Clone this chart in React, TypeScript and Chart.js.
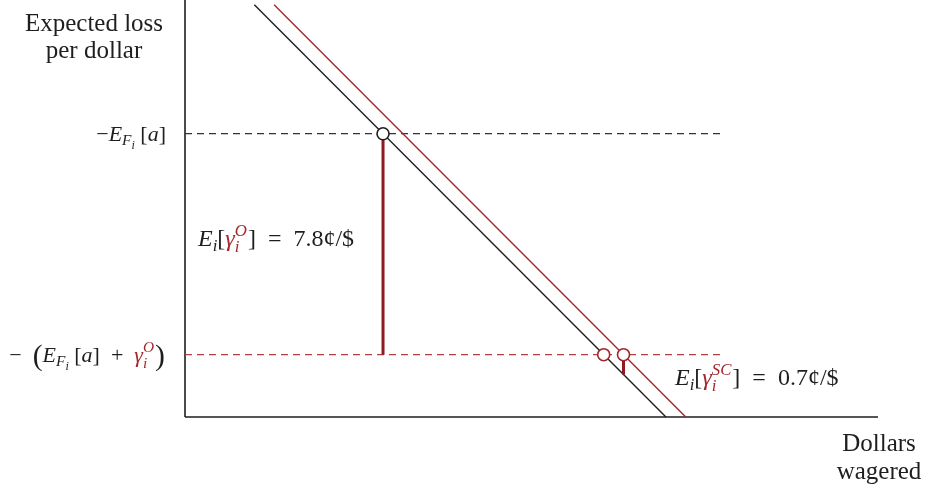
import React, { useEffect, useRef } from "react";
import { Chart, registerables } from "chart.js";

Chart.register(...registerables);

// Expected loss levels (cents per dollar): -E_F[a] and -(E_F[a] + γ^O)
const baseLoss = 10;
const gammaO = 7.8;
const gammaSC = 0.7;
const lowerLoss = baseLoss - gammaO;

// Break-even line of the bettor (dollars wagered vs. expected loss)
const costLineX = [10, 69.4];
const costLineY = [14.55, 0];

// Axis extents
const xMax = 100;
const yMax = 14.72;
const dashEndX = 77.5;

const RED = "#a3272b";
const DARK_RED = "#8e1b1f";
const INK = "#1e1e1e";
const FONT = '"Liberation Serif", "DejaVu Serif", serif';
const EN = "\u2002";

const slope = (costLineY[1] - costLineY[0]) / (costLineX[1] - costLineX[0]);
const redShift = gammaSC / -slope;
const xOnLine = (y: number, shift: number) => costLineX[0] + (y - costLineY[0]) / slope + shift;

const blackUpperX = xOnLine(baseLoss, 0);
const blackLowerX = xOnLine(lowerLoss, 0);
const redLowerX = xOnLine(lowerLoss, redShift);

type Piece = { t: string; it?: boolean; c?: string; s?: number; dy?: number };
type Run = Piece | { sup: Piece; sub: Piece };

function fontOf(p: Piece, size: number) {
  return `${p.it ? "italic " : ""}${Math.round(size * (p.s ?? 1) * 10) / 10}px ${FONT}`;
}

function runWidth(ctx: CanvasRenderingContext2D, r: Run, size: number) {
  if ("sup" in r) {
    ctx.font = fontOf(r.sup, size);
    const a = ctx.measureText(r.sup.t).width;
    ctx.font = fontOf(r.sub, size);
    const b = ctx.measureText(r.sub.t).width;
    return Math.max(a, b) + 1;
  }
  ctx.font = fontOf(r, size);
  return ctx.measureText(r.t).width;
}

function drawPiece(ctx: CanvasRenderingContext2D, p: Piece, x: number, y: number, size: number) {
  ctx.font = fontOf(p, size);
  ctx.fillStyle = p.c ?? INK;
  ctx.fillText(p.t, x, y + (p.dy ?? 0));
}

function drawRich(
  ctx: CanvasRenderingContext2D,
  runs: Run[],
  x: number,
  y: number,
  size: number,
  align: "left" | "right"
) {
  ctx.save();
  ctx.textAlign = "left";
  ctx.textBaseline = "alphabetic";
  const total = runs.reduce((w, r) => w + runWidth(ctx, r, size), 0);
  let cx = align === "right" ? x - total : x;
  for (const r of runs) {
    const w = runWidth(ctx, r, size);
    if ("sup" in r) {
      drawPiece(ctx, r.sup, cx, y, size);
      drawPiece(ctx, r.sub, cx, y, size);
    } else {
      drawPiece(ctx, r, cx, y, size);
    }
    cx += w;
  }
  ctx.restore();
}

const EF: Run[] = [
  { t: "E", it: true },
  { t: "F", it: true, s: 0.7, dy: 4 },
  { t: "i", it: true, s: 0.55, dy: 8 },
  { t: " [" },
  { t: "a", it: true },
  { t: "]" },
];

const gammaStack = (sup: string): Run[] => [
  { t: "γ", it: true, c: RED },
  { sup: { t: sup, it: true, c: RED, s: 0.7, dy: -10 }, sub: { t: "i", it: true, c: RED, s: 0.7, dy: 6 } },
];

const upperTick: Run[] = [{ t: "−" }, ...EF];
const lowerTick: Run[] = [
  { t: "−" + EN },
  { t: "(", s: 1.35, dy: 3 },
  ...EF,
  { t: EN + "+" + EN },
  ...gammaStack("O"),
  { t: ")", s: 1.35, dy: 3 },
];
const annotation = (sup: string, v: number): Run[] => [
  { t: "E", it: true },
  { t: "i", it: true, s: 0.7, dy: 5 },
  { t: "[" },
  ...gammaStack(sup),
  { t: "]" + EN + "=" + EN + v.toFixed(1) + "¢/$" },
];

const labelsPlugin = {
  id: "labels",
  afterDatasetsDraw(chart: Chart) {
    const ctx = chart.ctx;
    const xs = chart.scales.x;
    const ys = chart.scales.y;
    const left = xs.getPixelForValue(0);

    // axis titles
    ctx.save();
    ctx.fillStyle = INK;
    ctx.textAlign = "center";
    ctx.textBaseline = "alphabetic";
    ctx.font = `25px ${FONT}`;
    ctx.fillText("Expected loss", 94, 31);
    ctx.fillText("per dollar", 94, 58);
    ctx.fillText("Dollars", 879, 451);
    ctx.fillText("wagered", 879, 479);
    ctx.restore();

    // level labels on the loss axis
    drawRich(ctx, upperTick, left - 19, ys.getPixelForValue(baseLoss) + 7, 22, "right");
    drawRich(ctx, lowerTick, left - 20, ys.getPixelForValue(lowerLoss) + 7, 22, "right");

    // premium annotations
    drawRich(ctx, annotation("O", gammaO), 198, 246, 24, "left");
    drawRich(ctx, annotation("SC", gammaSC), 675, 385, 24, "left");
  },
};

export default function App() {
  const ref = useRef<HTMLCanvasElement | null>(null);

  useEffect(() => {
    if (!ref.current) return;
    const seg = (pts: { x: number; y: number }[], color: string, width: number, order: number, dash?: number[]) => ({
      data: pts,
      showLine: true,
      borderColor: color,
      borderWidth: width,
      borderDash: dash ?? [],
      pointRadius: 0,
      clip: false as any,
      order,
    });

    const chart = new Chart(ref.current, {
      type: "scatter",
      data: {
        datasets: [
          {
            data: [
              { x: blackUpperX, y: baseLoss },
              { x: blackLowerX, y: lowerLoss },
              { x: redLowerX, y: lowerLoss },
            ],
            pointRadius: 6,
            pointBorderWidth: 1.6,
            pointBackgroundColor: "#ffffff",
            pointBorderColor: [INK, RED, RED],
            showLine: false,
            clip: false as any,
            order: 0,
          },
          seg([{ x: blackUpperX, y: baseLoss }, { x: blackUpperX, y: lowerLoss }], DARK_RED, 3, 1),
          seg([{ x: redLowerX, y: lowerLoss }, { x: redLowerX, y: lowerLoss - gammaSC }], DARK_RED, 3, 1),
          seg(costLineX.map((x, i) => ({ x, y: costLineY[i] })), INK, 1.4, 2),
          seg(costLineX.map((x, i) => ({ x: x + redShift, y: costLineY[i] })), RED, 1.4, 2),
          seg([{ x: 0, y: baseLoss }, { x: dashEndX, y: baseLoss }], "#333333", 1.3, 3, [7, 5]),
          seg([{ x: 0, y: lowerLoss }, { x: dashEndX, y: lowerLoss }], "#b3403f", 1.3, 3, [7, 5]),
          seg([{ x: 0, y: 0 }, { x: 0, y: yMax }], INK, 1.6, 4),
          seg([{ x: 0, y: 0 }, { x: xMax, y: 0 }], INK, 1.6, 4),
        ] as any,
      },
      options: {
        animation: false,
        responsive: false,
        events: [],
        layout: { autoPadding: false, padding: { left: 185, right: 51, top: 0, bottom: 73 } },
        scales: {
          x: { type: "linear", min: 0, max: xMax, display: false },
          y: { type: "linear", min: 0, max: yMax, display: false },
        },
        plugins: { legend: { display: false }, tooltip: { enabled: false } },
      },
      plugins: [labelsPlugin],
    });
    return () => chart.destroy();
  }, []);

  return (
    <div style={{ position: "absolute", left: 0, top: 0, width: 929, height: 490, background: "#fff" }}>
      <canvas ref={ref} width={929} height={490} />
    </div>
  );
}
